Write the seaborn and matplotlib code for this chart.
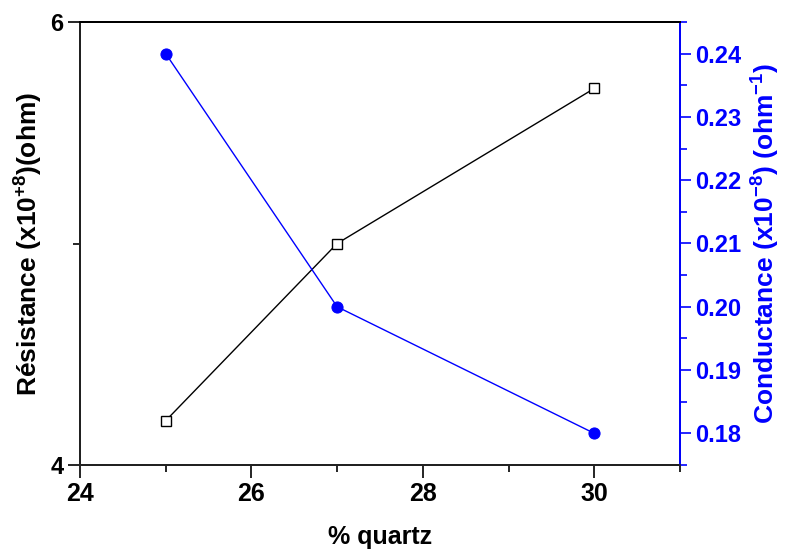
import matplotlib
matplotlib.use("Agg")
import matplotlib.pyplot as plt
import seaborn as sns
import pandas as pd
from matplotlib.ticker import MultipleLocator, FixedLocator

# Data
quartz = [25, 27, 30]
resistance = [4.2, 5.0, 5.7]
conductance = [0.24, 0.20, 0.18]
x_ticks = [24, 26, 28, 30]
left_ticks = [4, 6]
right_ticks = [0.18, 0.19, 0.20, 0.21, 0.22, 0.23, 0.24]
right_labels = ["0.18", "0.19", "0.20", "0.21", "0.22", "0.23", "0.24"]

sns.set_theme(style="ticks")
plt.rcParams['font.family'] = ['Liberation Sans', 'DejaVu Sans']
plt.rcParams['font.weight'] = 'bold'
plt.rcParams['text.color'] = 'black'
plt.rcParams['axes.labelcolor'] = 'black'
plt.rcParams['mathtext.fontset'] = 'custom'
plt.rcParams['mathtext.rm'] = 'Liberation Sans:bold'
plt.rcParams['mathtext.it'] = 'Liberation Sans:bold'
plt.rcParams['mathtext.bf'] = 'Liberation Sans:bold'
plt.rcParams['mathtext.default'] = 'rm'

df = pd.DataFrame({"quartz": quartz, "resistance": resistance, "conductance": conductance})

fig = plt.figure(figsize=(7.9, 5.54), dpi=100)
ax = fig.add_axes([80/790, 89/554, 600/790, 443/554])
ax2 = ax.twinx()

sns.lineplot(data=df, x="quartz", y="resistance", ax=ax, color="black", lw=1,
             marker="s", markersize=7, markerfacecolor="white",
             markeredgecolor="black", markeredgewidth=1)
sns.lineplot(data=df, x="quartz", y="conductance", ax=ax2, color="blue", lw=1,
             marker="o", markersize=8, markerfacecolor="blue",
             markeredgecolor="blue")

ax.set_xlim(24, 31)
ax.set_ylim(4, 6)
ax2.set_ylim(0.175, 0.245)

ax.xaxis.set_major_locator(FixedLocator(x_ticks))
ax.xaxis.set_minor_locator(FixedLocator([25, 27, 29, 31]))
ax.yaxis.set_major_locator(FixedLocator(left_ticks))
ax.yaxis.set_minor_locator(FixedLocator([5]))
ax2.yaxis.set_major_locator(FixedLocator(right_ticks))
ax2.yaxis.set_minor_locator(MultipleLocator(0.005))
ax2.set_yticklabels(right_labels)

ax.tick_params(axis='both', which='major', direction='out', length=9, width=1.2,
               colors='black')
ax.tick_params(axis='both', which='minor', direction='out', length=5, width=1.2,
               colors='black')
ax.tick_params(axis='x', which='major', labelsize=18, pad=3)
ax.tick_params(axis='y', which='major', labelsize=17, pad=3)
ax2.tick_params(axis='y', which='major', direction='out', length=8, width=1.2,
                labelsize=17, colors='blue', pad=3)
ax2.tick_params(axis='y', which='minor', direction='out', length=5, width=1.2, colors='blue')

for lab in ax.get_xticklabels() + ax.get_yticklabels() + ax2.get_yticklabels():
    lab.set_fontweight('bold')

for sp in ['top', 'left', 'bottom']:
    ax.spines[sp].set_color('black')
    ax.spines[sp].set_linewidth(1.4)
ax2.spines['right'].set_color('blue')
ax2.spines['right'].set_linewidth(1.4)
ax2.spines['top'].set_linewidth(1.4)
ax2.spines['top'].set_color('black')

ax.set_xlabel("% quartz", fontsize=18, fontweight='bold', labelpad=14, color='black')
ax.set_ylabel(r"Résistance (x10$^{+8}$)(ohm)", fontsize=19, fontweight='bold',
              labelpad=4, color='black')
ax2.set_ylabel(r"Conductance (x10$^{-8}$) (ohm$^{-1}$)", fontsize=19, fontweight='bold',
               color='blue', labelpad=6)

fig.savefig("out.png", dpi=100)
